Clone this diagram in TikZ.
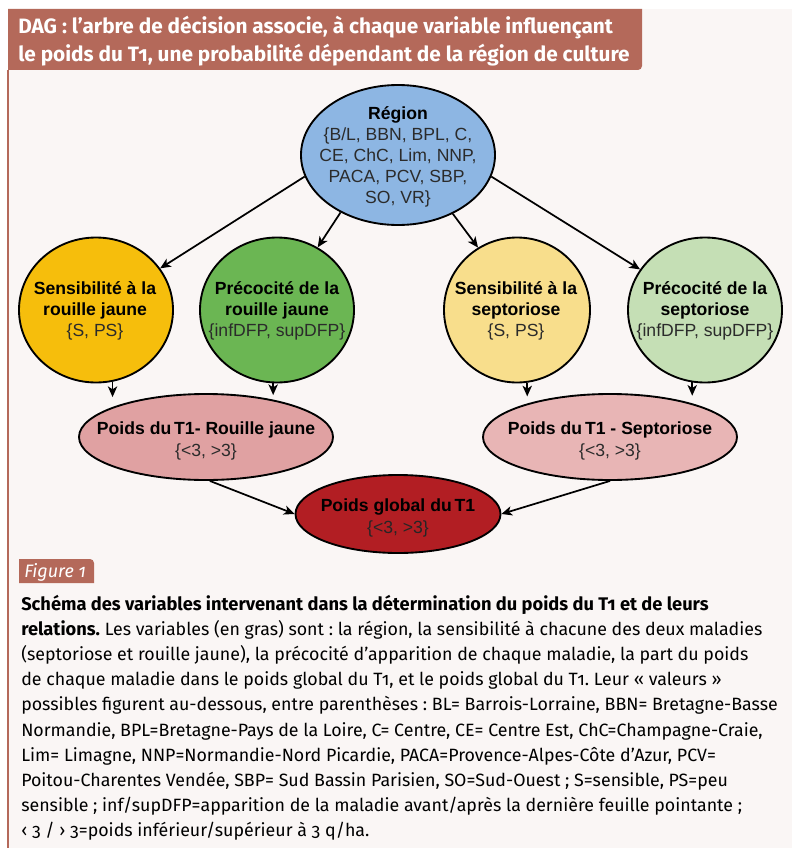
\documentclass[tikz,border=0pt]{standalone}
\usepackage{fontspec}
\setmainfont{Liberation Sans}
\newfontfamily\capfont[Numbers=OldStyle]{Fira Sans}
\usetikzlibrary{shapes.geometric,arrows.meta}
\definecolor{panelbg}{HTML}{FAF6F5}
\definecolor{brownbar}{HTML}{B4695A}
\definecolor{cRegion}{HTML}{8DB6E3}
\definecolor{cOrange}{HTML}{F6BE0C}
\definecolor{cGreen}{HTML}{6BB653}
\definecolor{cYellow}{HTML}{F8DE8C}
\definecolor{cLgreen}{HTML}{C5DFB5}
\definecolor{cPinkL}{HTML}{E0A1A2}
\definecolor{cPinkR}{HTML}{E8B5B5}
\definecolor{cRed}{HTML}{B21E23}
\definecolor{valtxt}{HTML}{2B2B2B}
\frenchspacing
\newcommand\capbold[1]{{\fontsize{13.7pt}{18.9pt}\selectfont\bfseries #1}}
\begin{document}
\begin{tikzpicture}[x=0.75pt,y=-0.75pt,
  var/.style={ellipse, draw=black, line width=1.4pt, inner sep=0pt},
  big/.style={minimum width=115.5pt, minimum height=108.75pt},
  wide/.style={minimum width=190.5pt, minimum height=64.5pt},
  lbl/.style={align=center, inner sep=0pt, text=black, font=\fontsize{13.2pt}{15.8pt}\selectfont},
  lbltwo/.style={align=center, inner sep=0pt, text=black, font=\fontsize{13.2pt}{17pt}\selectfont},
  arr/.style={-{Stealth[length=8pt,width=7pt,inset=2.2pt]}, line width=1.3pt}
]
\useasboundingbox (0,0) rectangle (800,856);
\fill[white] (0,0) rectangle (800,856);
% panel
\fill[panelbg] (8,9) rectangle (792,848);
\draw[brownbar, line width=1.1pt] (8,70) -- (8,848);
\fill[brownbar] (8,9) -- (642,9) -- (642,66) arc[start angle=0, end angle=-90, radius=3pt] -- (8,70) -- cycle;
\node[anchor=north west, inner sep=0pt, align=left, text=white,
  font=\capfont\bfseries\fontsize{15.6pt}{21pt}\selectfont] (title) at (18,15.5)
  {DAG : l’arbre de décision associe, à chaque variable influençant\\le poids du T1, une probabilité dépendant de la région de culture};

% nodes
\node[var, fill=cRegion, minimum width=145.5pt, minimum height=105pt] (r) at (398,155) {};
\node[var, big, fill=cOrange] (sr) at (96,310) {};
\node[var, big, fill=cGreen] (pr) at (277,310) {};
\node[var, fill=cYellow, minimum width=109.5pt, minimum height=108.75pt] (ss) at (517,310) {};
\node[var, big, fill=cLgreen] (ps) at (705,310) {};
\node[var, wide, fill=cPinkL] (wr) at (206,437) {};
\node[var, wide, fill=cPinkR] (ws) at (610,437) {};
\node[var, fill=cRed, minimum width=153.75pt, minimum height=58.5pt] (g) at (398,514) {};

\node[lbl] (rt) at (398,157) {\textbf{Région}\\{\color{valtxt}\{B/L, BBN, BPL, C,}\\{\color{valtxt}CE, ChC, Lim, NNP,}\\{\color{valtxt}PACA, PCV, SBP,}\\{\color{valtxt}SO, VR\}}};
\node[lbl] (srt) at (95,311) {\textbf{Sensibilité à la}\\\textbf{rouille jaune}\\{\color{valtxt}\{S, PS\}}};
\node[lbl] (prt) at (277,311) {\textbf{Précocité de la}\\\textbf{rouille jaune}\\{\color{valtxt}\{infDFP, supDFP\}}};
\node[lbl] (sst) at (516,311) {\textbf{Sensibilité à la}\\\textbf{septoriose}\\{\color{valtxt}\{S, PS\}}};
\node[lbl] (pst) at (705,311) {\textbf{Précocité de la}\\\textbf{septoriose}\\{\color{valtxt}\{infDFP, supDFP\}}};
\node[lbltwo] (wrt) at (206,441) {\textbf{Poids du\,T1- Rouille jaune}\\{\color{valtxt}\{<3, >3\}}};
\node[lbltwo] (wst) at (610,441) {\textbf{Poids du\,T1 - Septoriose}\\{\color{valtxt}\{<3, >3\}}};
\node[lbltwo] (gt) at (398,518) {\textbf{Poids global du\,T1}\\{\color{black!85}\{<3, >3\}}};

% arrows
\draw[arr] (r.193) -- (sr.33);
\draw[arr] (r.225) -- (pr.57);
\draw[arr] (r.313) -- (ss.122);
\draw[arr] (r.347) -- (ps.148);
\draw[arr] (sr.283) -- ([yshift=-3pt]sr.283 |- wr.north);
\draw[arr] (pr.267) -- ([yshift=-1.5pt]pr.267 |- wr.north);
\draw[arr] (ss.278) -- ([yshift=-2.5pt]ss.278 |- ws.north);
\draw[arr] (ps.260) -- ([yshift=-2pt]ps.260 |- ws.north);
\draw[arr] (wr.275) -- (g.west);
\draw[arr] (ws.south) -- (g.east);

% figure tag
\fill[brownbar] (19,583) -- (19,559) -- (90,559) arc[start angle=90, end angle=0, radius=3pt] -- (94,583) -- cycle;
\node[anchor=base west, inner sep=0pt, text=white, font=\capfont\itshape\fontsize{13.5pt}{14pt}\selectfont] (fig) at (24,577) {Figure 1};

% caption
\node[anchor=north west, inner sep=0pt, align=left, text=black,
  font=\capfont\fontsize{13.35pt}{18.9pt}\selectfont] (cap) at (21,594.5)
{\capbold{Schéma des variables intervenant dans la détermination du poids du T1 et de leurs}\\
\capbold{relations.} Les variables (en gras) sont : la région, la sensibilité à chacune des deux maladies\\
(septoriose et rouille jaune), la précocité d’apparition de chaque maladie, la part du poids\\
de chaque maladie dans le poids global du T1, et le poids global du T1. Leur « valeurs »\\
possibles figurent au-dessous, entre parenthèses : BL= Barrois-Lorraine, BBN= Bretagne-Basse\\
Normandie, BPL=Bretagne-Pays de la Loire, C= Centre, CE= Centre Est, ChC=Champagne-Craie,\\
Lim= Limagne, NNP=Normandie-Nord Picardie, PACA=Provence-Alpes-Côte d’Azur, PCV=\\
Poitou-Charentes Vendée, SBP= Sud Bassin Parisien, SO=Sud-Ouest ; S=sensible, PS=peu\\
sensible ; inf/supDFP=apparition de la maladie avant/après la dernière feuille pointante ;\\
‹ 3 / › 3=poids inférieur/supérieur à 3 q/ha.};
\end{tikzpicture}
\end{document}
